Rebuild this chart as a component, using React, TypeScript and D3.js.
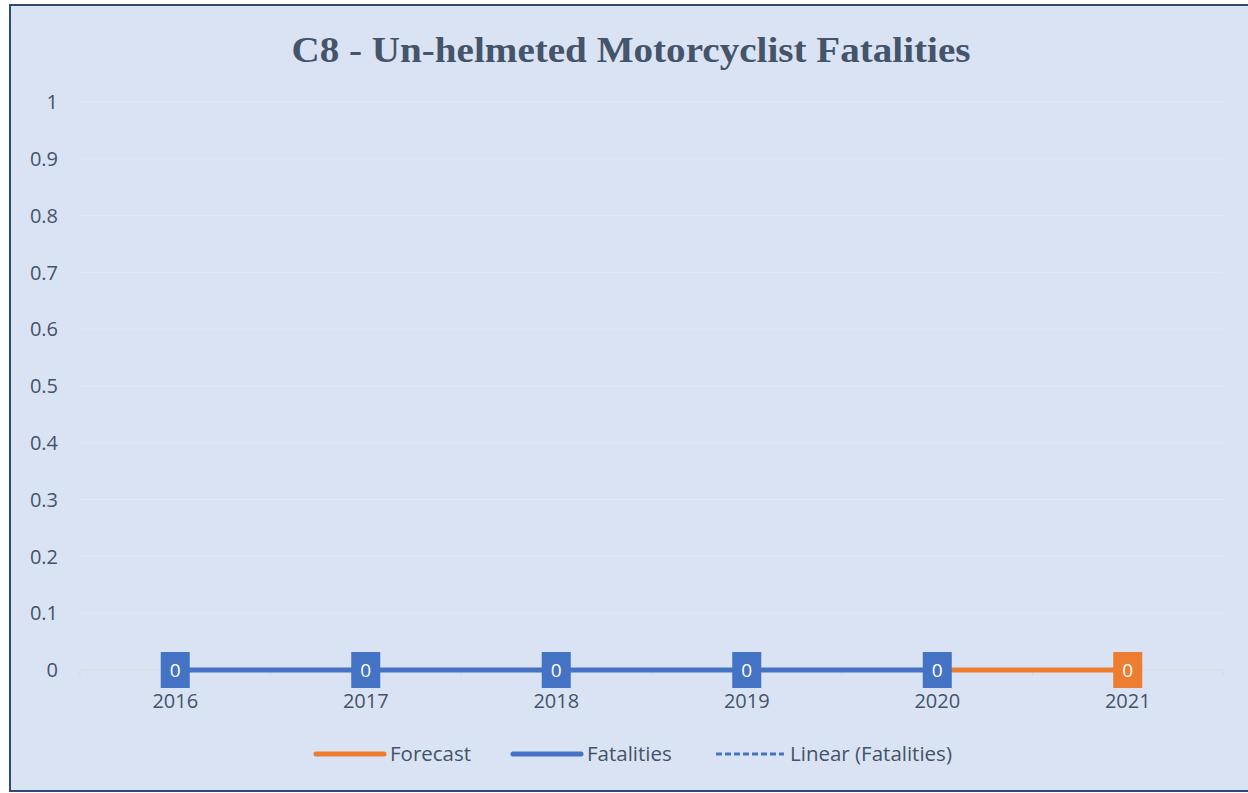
import React, { useEffect, useRef } from "react";
import * as d3 from "d3";

const years = ["2016", "2017", "2018", "2019", "2020", "2021"];
const fatalities = [0, 0, 0, 0, 0];
const forecastYears = ["2020", "2021"];
const forecast = [0, 0];
const yTicks = [0, 0.1, 0.2, 0.3, 0.4, 0.5, 0.6, 0.7, 0.8, 0.9, 1];

const BLUE = "#4472c4";
const ORANGE = "#ed7d31";
const TEXT = "#44546a";
const FONT = "'Open Sans', sans-serif";

export default function App() {
  const svgRef = useRef<SVGSVGElement>(null);

  useEffect(() => {
    const w = 1248;
    const h = 793;
    const svg = d3.select(svgRef.current).attr("width", w).attr("height", h);
    svg.selectAll("*").remove();

    // chart area background + border
    svg.append("rect")
      .attr("x", 10).attr("y", 5)
      .attr("width", 1250).attr("height", 786)
      .attr("fill", "#dae3f3")
      .attr("stroke", "#2f4b73")
      .attr("stroke-width", 2);

    svg.append("text")
      .attr("x", 631).attr("y", 62)
      .attr("text-anchor", "middle")
      .style("font-family", "'Liberation Serif', serif")
      .style("font-weight", "bold")
      .style("font-size", "36px")
      .attr("textLength", 679)
      .attr("lengthAdjust", "spacingAndGlyphs")
      .attr("fill", TEXT)
      .text("C8 - Un-helmeted Motorcyclist Fatalities");

    const x = d3.scaleBand().domain(years).range([80, 1223]);
    const cx = (d: string) => (x(d) as number) + x.bandwidth() / 2;
    const y = d3.scaleLinear().domain([0, 1]).range([670, 102]);

    // gridlines
    svg.append("g").selectAll("line")
      .data(yTicks.slice(1))
      .join("line")
      .attr("x1", 80).attr("x2", 1223)
      .attr("y1", d => y(d)).attr("y2", d => y(d))
      .attr("stroke", "#e4e9f1").attr("stroke-width", 1);

    // y labels
    svg.append("g").selectAll("text")
      .data(yTicks)
      .join("text")
      .attr("x", 58).attr("y", d => y(d))
      .attr("dy", "0.36em")
      .attr("text-anchor", "end")
      .style("font-family", FONT)
      .style("font-size", "20px")
      .attr("fill", TEXT)
      .text(d => d3.format("~g")(d));

    // x axis line with ticks between categories
    svg.append("line")
      .attr("x1", 80).attr("x2", 1223)
      .attr("y1", y(0)).attr("y2", y(0))
      .attr("stroke", "#d9d9d9").attr("stroke-width", 1);
    svg.append("g").selectAll("line")
      .data(years.concat(["end"]))
      .join("line")
      .attr("x1", (d, i) => 80 + i * x.bandwidth())
      .attr("x2", (d, i) => 80 + i * x.bandwidth())
      .attr("y1", y(0)).attr("y2", y(0) + 6)
      .attr("stroke", "#d9d9d9");

    svg.append("g").selectAll("text")
      .data(years)
      .join("text")
      .attr("x", d => cx(d)).attr("y", 701)
      .attr("dy", "0.36em")
      .attr("text-anchor", "middle")
      .style("font-family", FONT)
      .style("font-size", "20px")
      .attr("fill", TEXT)
      .text(d => d);

    const line = d3.line<[string, number]>()
      .x(d => cx(d[0]))
      .y(d => y(d[1]));

    const fatPts: [string, number][] = fatalities.map((v, i) => [years[i], v]);
    const fcPts: [string, number][] = forecast.map((v, i) => [forecastYears[i], v]);

    // linear trend (dashed), then the series
    svg.append("path")
      .attr("d", line(fatPts))
      .attr("fill", "none").attr("stroke", BLUE)
      .attr("stroke-width", 3).attr("stroke-dasharray", "8 4");
    svg.append("path")
      .attr("d", line(fcPts))
      .attr("fill", "none").attr("stroke", ORANGE)
      .attr("stroke-width", 5);
    svg.append("path")
      .attr("d", line(fatPts))
      .attr("fill", "none").attr("stroke", BLUE)
      .attr("stroke-width", 5);

    // data labels
    const labels = fatPts.map(p => ({ p, c: BLUE })).concat([{ p: fcPts[1], c: ORANGE }]);
    const lg = svg.append("g").selectAll("g")
      .data(labels)
      .join("g")
      .attr("transform", d => `translate(${cx(d.p[0])},${y(d.p[1])})`);
    lg.append("rect")
      .attr("x", -14.5).attr("y", -18)
      .attr("width", 29).attr("height", 36)
      .attr("fill", d => d.c);
    lg.append("text")
      .attr("y", 0).attr("dy", "0.36em")
      .attr("text-anchor", "middle")
      .style("font-family", FONT)
      .style("font-size", "19px")
      .attr("fill", "#ffffff")
      .text(d => String(d.p[1]));

    // legend
    const legend = [
      { name: "Forecast", c: ORANGE, dash: null, x: 314 },
      { name: "Fatalities", c: BLUE, dash: null, x: 511 },
      { name: "Linear (Fatalities)", c: BLUE, dash: "6 3", x: 714 },
    ];
    const leg = svg.append("g").selectAll("g")
      .data(legend)
      .join("g")
      .attr("transform", d => `translate(${d.x},754)`);
    leg.append("line")
      .attr("x1", 2).attr("x2", 70)
      .attr("stroke", d => d.c)
      .attr("stroke-width", d => (d.dash ? 3 : 5))
      .attr("stroke-linecap", d => (d.dash ? "butt" : "round"))
      .attr("stroke-dasharray", d => d.dash);
    leg.append("text")
      .attr("x", 76).attr("dy", "0.36em")
      .style("font-family", FONT)
      .style("font-size", "20.5px")
      .attr("fill", TEXT)
      .text(d => d.name);
  }, []);

  return (
    <div style={{ position: "absolute", left: 0, top: 0 }}>
      <svg ref={svgRef} style={{ display: "block" }}></svg>
    </div>
  );
}
